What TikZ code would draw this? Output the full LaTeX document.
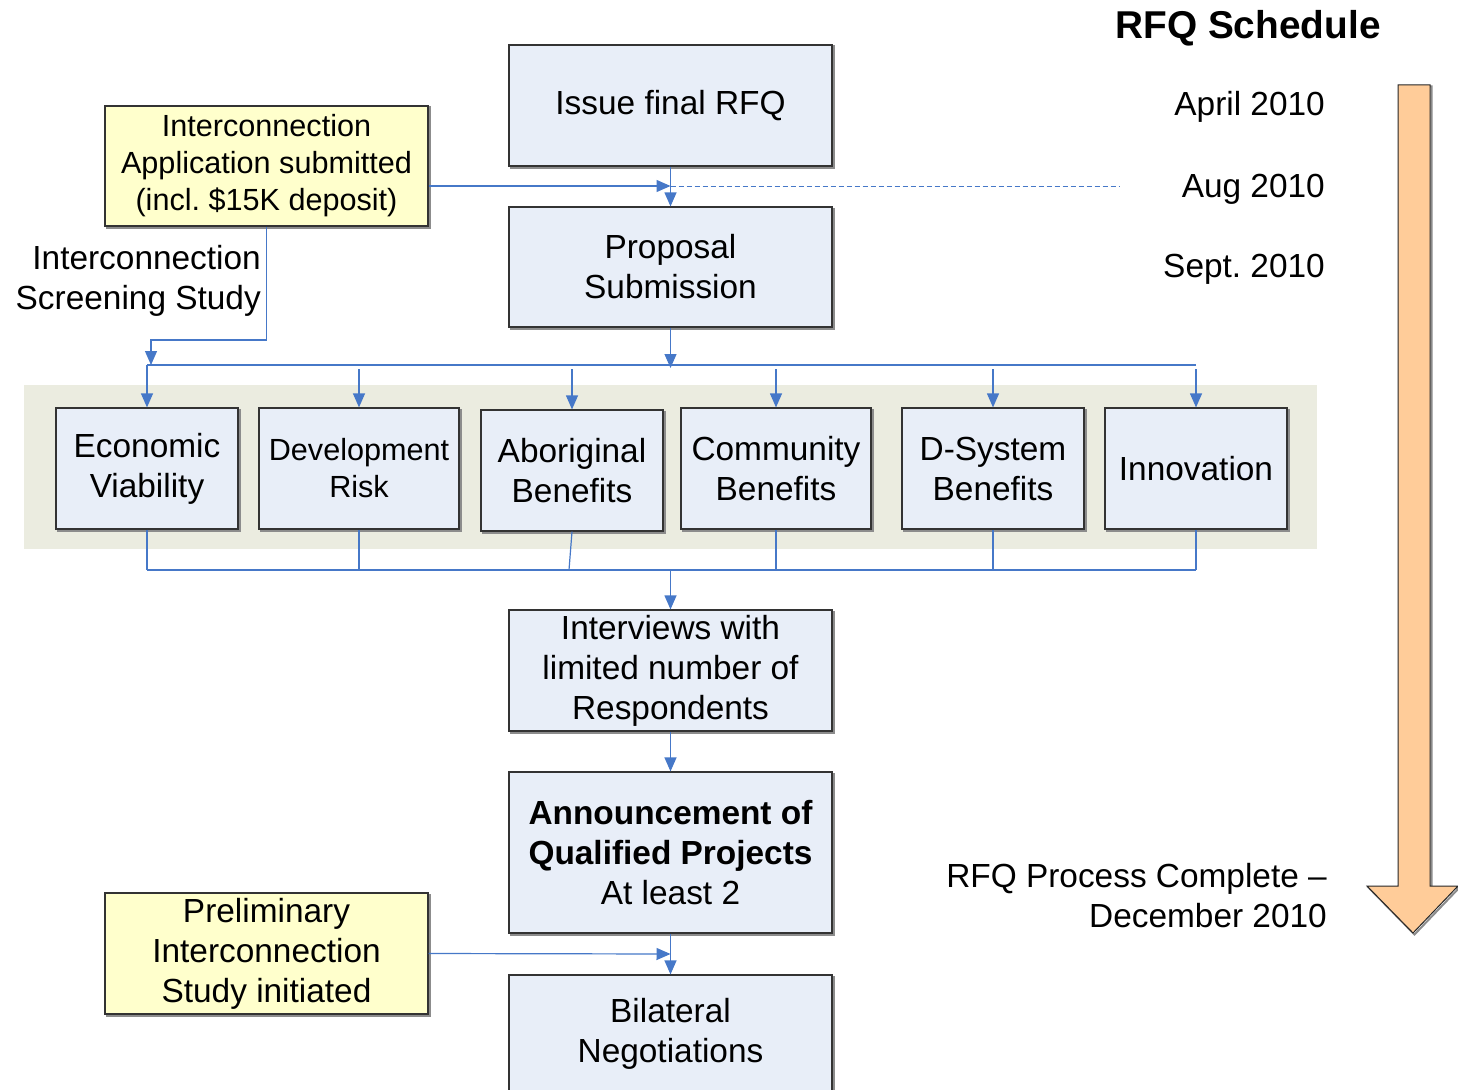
\documentclass[tikz,border=0pt]{standalone}
\usepackage{fontspec}
\setmainfont{Liberation Sans}
\usetikzlibrary{arrows.meta}
\definecolor{boxblue}{RGB}{232,238,248}
\definecolor{noteyellow}{RGB}{255,255,204}
\definecolor{bandgray}{RGB}{235,236,224}
\definecolor{connblue}{RGB}{70,120,200}
\definecolor{peach}{RGB}{255,204,153}
\newcommand\fsmain{\fontsize{33.4}{40}\selectfont}
\newcommand\fssmall{\fontsize{30.6}{37}\selectfont}
\newcommand\fstitle{\fontsize{38.8}{44}\selectfont\bfseries}
\frenchspacing
\begin{document}
\begin{tikzpicture}[x=1pt,y=-1pt,
  shadowed/.style={preaction={draw=black!45,line width=2pt,transform canvas={shift={(1.5pt,-1.5pt)}}}},
  box/.style={shadowed,draw=black!80,line width=1.2pt,fill=boxblue,align=center,font=\fsmain,inner sep=0pt,minimum width=323pt,minimum height=121pt},
  note/.style={box,fill=noteyellow},
  crit/.style={box,minimum width=182pt},
  lbl/.style={font=\fsmain,inner sep=0pt},
  conn/.style={draw=connblue,line width=1.2pt},
  arr/.style={-{Triangle[length=14pt,width=12pt]}}
]
\useasboundingbox (0,0) rectangle (1458,1089);
\fill[white] (0,0) rectangle (1458,1089);

% band
\fill[bandgray] (24,385) rectangle (1317,549);

% big schedule arrow
\draw[black!45,line width=2pt,transform canvas={shift={(1.5pt,-1.5pt)}}]
  (1398,85) -- (1430,85) -- (1430,886) -- (1458,886) -- (1413,933) -- (1367,886) -- (1398,886) -- cycle;
\draw[fill=peach,draw=black!85,line width=1pt]
  (1398,85) -- (1430,85) -- (1430,886) -- (1458,886) -- (1413,933) -- (1367,886) -- (1398,886) -- cycle;

% main boxes
\node[box] (issue) at (670.5,105.5) {Issue final RFQ};
\node[box,minimum height=120pt] (prop) at (670.5,267) {Proposal\\Submission};
\node[note,font=\fssmall,minimum height=120pt] (y1) at (266.5,166) {Interconnection\\Application submitted\\(incl. \$15K deposit)};
\node[lbl,anchor=east,align=right] (screen) at (261,281) {Interconnection\\Screening Study};

\node[crit] (econ) at (147,468.5) {Economic\\Viability};
\node[crit,minimum width=200pt,font=\fssmall] (dev) at (359,468.5) {Development\\Risk};
\node[crit] (abor) at (572,470.5) {Aboriginal\\Benefits};
\node[crit,minimum width=190pt] (comm) at (776,468.5) {Community\\Benefits};
\node[crit] (dsys) at (993,468.5) {D-System\\Benefits};
\node[crit] (innov) at (1196,468.5) {Innovation};

\node[box] (interv) at (670.5,670.5) {Interviews with\\limited number of\\Respondents};
\node[box,minimum height=161pt] (annc) at (670.5,852.5) {\textbf{Announcement of}\\\textbf{Qualified Projects}\\At least 2};
\node[note] (y2) at (266.5,953.5) {Preliminary\\Interconnection\\Study initiated};
\node[box,minimum height=118pt] (bilat) at (670.5,1034) {Bilateral\\Negotiations};

% schedule text
\node[font=\fstitle,inner sep=0pt,anchor=base] (title) at (1248,39) {RFQ Schedule};
\node[lbl,anchor=base east] (apr) at (1325,116) {April 2010};
\node[lbl,anchor=base east] (aug) at (1325,197) {Aug 2010};
\node[lbl,anchor=base east] (sep) at (1325,277) {Sept. 2010};
\node[lbl,anchor=east,align=right] (done) at (1327,896) {RFQ Process Complete --\\December 2010};

% connectors top
\coordinate (j1) at (670.5,186);
\coordinate (dashend) at (1120,186);
\draw[conn,dashed,dash pattern=on 5pt off 3pt,line width=1pt] (j1) -- (dashend);
\draw[conn,arr] ([yshift=-20pt]y1.east) -- (j1);
\draw[conn,arr] (issue.south) -- (prop.north);

% top bus
\coordinate (busL) at (147,365);
\coordinate (busR) at (1196,365);
\coordinate (yb) at (151,365);
\coordinate (pb) at (670.5,368);
\draw[conn] (busL) -- (busR);
\draw[conn,arr] (y1.south) |- ([yshift=25pt]yb) -- (yb);
\draw[conn,arr] (prop.south) -- (pb);
\draw[conn,arr] (busL) -- (econ.north);
\foreach \n in {dev,abor,comm,dsys,innov}
  \draw[conn,arr] (\n.north |- 0,369) -- (\n.north);

% bottom bus
\coordinate (bbL) at (147,570);
\coordinate (bbR) at (1196,570);
\coordinate (bbM) at (670.5,570);
\draw[conn] (bbL) -- (bbR);
\foreach \n in {econ,dev,comm,dsys,innov}
  \draw[conn] (\n.south) -- (\n.south |- bbL);
\draw[conn] (abor.south) -- ([xshift=-3pt]abor.south |- bbL);
\draw[conn,arr] (bbM) -- (interv.north);

% lower chain
\draw[conn,arr] (interv.south) -- (annc.north);
\draw[conn,arr] (annc.south) -- (bilat.north);
\coordinate (j2) at (670.5,954);
\draw[conn,arr] (y2.east) -- (j2);
\end{tikzpicture}
\end{document}
